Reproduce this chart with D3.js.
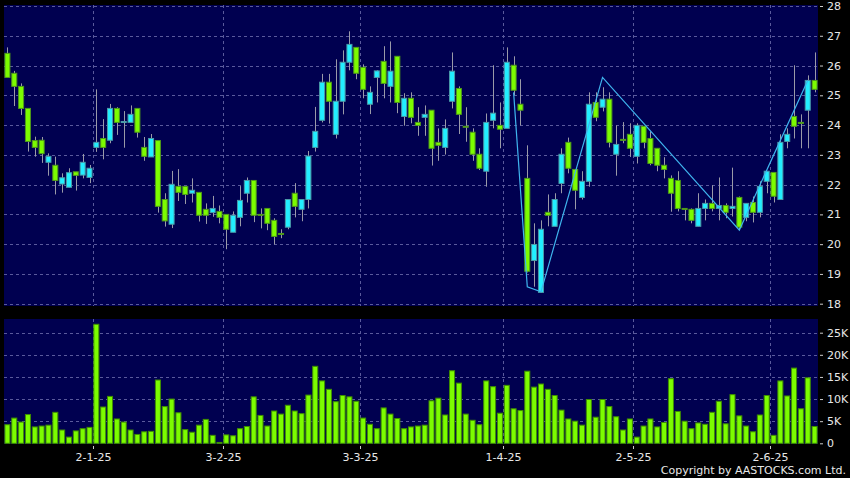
<!DOCTYPE html>
<html><head><meta charset="utf-8">
<script src="https://cdn.jsdelivr.net/npm/d3@7"></script>
<style>html,body{margin:0;padding:0;background:#000;}svg{display:block;}</style>
</head><body>
<svg id="c" width="850" height="478"></svg>
<script>
// ---- data ----
const months = [
  ["2024-12", [11,12,13,16,17,18,19,20,23,24,27,30,31]],
  ["2025-01", [2,3,6,7,8,9,10,13,14,15,16,17,20,21,22,23,24,27,28]],
  ["2025-02", [3,4,5,6,7,10,11,12,13,14,17,18,19,20,21,24,25,26,27,28]],
  ["2025-03", [3,4,5,6,7,10,11,12,13,14,17,18,19,20,21,24,25,26,27,28,31]],
  ["2025-04", [1,2,3,7,8,9,10,11,14,15,16,17,22,23,24,25,28,29,30]],
  ["2025-05", [2,6,7,8,9,12,13,14,15,16,19,20,21,22,23,26,27,28,29,30]],
  ["2025-06", [2,3,4,5,6,9,10]]
];
const dates = months.flatMap(([m, ds]) => ds.map(d => m + "-" + String(d).padStart(2, "0")));

const open = [26.41,25.74,25.30,24.56,23.48,23.49,22.75,22.65,22.02,21.91,22.43,22.32,22.24,
 23.25,23.55,23.49,24.56,24.09,24.09,24.56,23.25,22.93,23.48,21.50,20.67,21.94,21.94,21.71,21.74,21.17,21.06,21.10,
 21.00,20.40,20.90,21.71,22.14,21.00,21.20,20.80,20.36,20.57,21.71,21.17,21.50,23.25,24.16,25.44,23.69,24.80,26.11,26.61,
 25.94,24.70,25.60,26.14,25.30,26.31,24.29,24.90,24.09,24.26,24.50,23.42,23.25,24.80,25.23,23.96,23.76,23.02,22.45,24.16,23.99,
 23.89,26.01,24.70,22.21,19.45,18.38,21.07,20.60,22.04,23.42,22.51,21.57,22.11,24.76,24.60,24.87,23.02,23.52,23.69,
 22.95,23.96,23.55,23.22,22.65,22.21,22.14,21.20,21.17,20.60,21.20,21.37,21.20,21.30,21.20,21.57,20.90,21.40,21.07,22.11,
 22.41,21.50,23.45,24.29,24.09,24.50,25.50];
const close = [25.60,25.30,24.56,23.45,23.25,23.04,22.95,22.14,22.23,22.40,22.31,22.75,22.55,
 23.42,23.25,24.56,24.09,24.12,24.36,23.76,22.95,23.55,21.27,20.78,22.01,21.74,21.67,21.81,20.97,20.97,21.20,20.90,
 20.50,20.97,21.47,22.14,20.97,21.00,20.70,20.26,20.36,21.50,21.27,21.50,22.96,23.79,25.44,24.80,24.80,26.11,26.71,25.74,
 25.20,25.10,25.82,25.40,25.81,24.76,24.90,24.26,23.99,24.36,23.22,23.32,23.89,25.81,24.36,23.96,23.02,22.55,24.09,24.40,23.86,
 26.11,25.17,24.50,19.09,19.99,20.50,20.97,21.50,23.02,22.55,21.81,22.11,24.70,24.26,24.87,23.42,23.35,23.52,23.22,
 23.99,23.42,22.71,22.65,22.51,21.71,21.20,21.20,20.80,21.20,21.37,21.20,21.30,21.07,21.27,20.57,21.37,21.07,21.94,22.45,
 21.61,23.42,23.69,23.96,24.09,25.50,25.20];
const high = [26.61,25.82,25.40,24.56,23.61,23.60,23.05,22.94,22.38,22.55,22.43,23.03,22.66,
 25.20,24.20,24.71,24.60,24.47,24.66,24.56,23.60,23.70,23.48,21.71,22.46,22.52,21.94,22.21,21.74,21.37,21.62,21.30,
 21.00,21.10,21.95,22.24,22.14,21.20,21.20,20.87,20.50,21.50,22.05,21.50,23.13,24.61,25.72,25.72,26.21,26.51,27.15,26.61,
 26.04,25.30,25.84,26.65,26.81,26.31,25.07,25.10,24.60,24.66,24.50,23.89,24.19,26.44,25.30,24.60,23.89,23.22,24.39,26.01,24.76,
 26.61,26.31,25.54,23.32,20.70,20.80,21.67,21.71,23.22,23.58,22.51,22.45,25.10,25.10,25.27,25.10,23.99,24.10,24.06,
 24.06,23.96,23.79,23.22,22.92,22.31,22.45,21.20,21.20,21.71,21.50,21.98,22.24,21.37,22.57,21.60,21.37,21.60,22.11,22.45,
 22.41,23.69,23.89,26.01,24.36,25.67,26.44];
const low = [25.60,24.64,24.34,23.11,22.94,22.73,22.30,21.67,21.73,21.91,21.80,22.21,22.05,
 23.10,22.85,23.39,23.67,23.24,24.09,23.58,22.80,22.93,21.06,20.59,20.54,21.45,21.35,21.40,20.76,20.68,20.92,20.70,
 19.83,20.40,20.60,21.40,20.74,20.53,20.47,19.99,20.20,20.50,20.90,20.77,21.20,23.11,24.09,24.05,23.55,24.36,25.84,25.54,
 24.90,24.37,24.76,24.90,24.76,24.40,23.98,24.06,23.64,23.64,22.64,22.80,23.01,24.56,23.70,23.44,22.80,22.49,21.93,23.89,23.22,
 23.89,25.00,23.99,19.05,18.57,18.38,20.60,20.60,21.71,22.38,21.17,21.50,21.93,24.13,24.46,23.25,22.30,23.39,22.93,
 22.71,23.22,22.65,22.45,22.21,21.09,21.10,20.80,20.70,20.60,20.80,21.10,20.80,20.87,20.93,20.47,20.77,20.73,20.90,21.71,
 21.40,21.50,23.22,23.55,23.22,23.22,25.10];
const volume = [4.2,5.7,4.8,6.5,3.7,3.9,4.1,7.0,3.0,1.4,2.8,3.3,3.6,
 26.9,8.2,10.6,5.5,4.8,3.0,2.0,2.6,2.7,14.3,8.3,10.0,6.9,3.1,2.5,4.1,5.4,1.8,0.2,
 1.9,1.7,3.3,3.8,10.5,6.3,3.9,7.3,6.6,8.6,7.3,6.7,10.9,17.4,14.1,12.2,9.4,10.8,10.5,9.5,
 5.7,4.3,3.3,8.0,6.6,5.6,3.3,3.7,3.9,4.1,9.6,10.2,6.4,16.4,13.6,6.6,5.2,4.2,14.1,12.8,6.8,
 13.1,7.8,7.4,16.3,12.7,13.4,12.2,10.8,7.5,5.5,5.0,4.1,9.9,5.9,9.9,8.3,6.0,3.0,5.5,
 1.4,3.9,5.5,3.7,4.7,14.6,7.2,5.0,3.3,4.6,4.3,7.0,9.5,4.4,11.0,6.2,3.9,2.6,6.4,10.8,
 1.8,14.1,10.7,17.0,7.8,14.8,3.8];

const priceTicks = [18,19,20,21,22,23,24,25,26,27,28];
const volTicks = [0,5,10,15,20,25];
const tickDates = ["2025-01-02","2025-02-03","2025-03-03","2025-04-01","2025-05-02","2025-06-02"];
const tickLabels = ["2-1-25","3-2-25","3-3-25","1-4-25","2-5-25","2-6-25"];
// pattern line vertices (date, price)
const zigDates = ["2025-04-02","2025-04-07","2025-04-09","2025-04-24","2025-05-26","2025-06-09"];
const zigPrices = [25.10,18.57,18.40,25.60,20.47,25.50];

// ---- drawing ----
const svg = d3.select("#c");
const W = 850, H = 478;
const navy = "#000050";
const gridCol = "#5a5a9c";
const txtCol = "#e8e8e8";

const x = d3.scaleBand().domain(dates).range([4, 818]).paddingInner(0.12).paddingOuter(0.06);
const yP = d3.scaleLinear().domain([18, 28]).range([303.7, 6]);
const yV = d3.scaleLinear().domain([0, 25]).range([443.3, 332.7]);
const bw = x.bandwidth();
const cx = d => x(d) + bw / 2;
const gx = d => Math.round(x(d) - (x.step() - bw) / 2) + 0.5;

svg.append("rect").attr("width", W).attr("height", H).attr("fill", "#000");
svg.append("rect").attr("x", 4).attr("y", 5).attr("width", 814).attr("height", 301).attr("fill", navy);
svg.append("rect").attr("x", 4).attr("y", 319).attr("width", 814).attr("height", 125).attr("fill", navy);

// grids price
const gP = svg.append("g");
gP.selectAll("line.h").data(priceTicks).join("line")
  .attr("x1", 4).attr("x2", 818).attr("y1", d => Math.round(yP(d)) + 0.5).attr("y2", d => Math.round(yP(d)) + 0.5)
  .attr("stroke", gridCol).attr("stroke-dasharray", "3,3").attr("stroke-width", 1);
gP.selectAll("line.v").data(tickDates).join("line")
  .attr("x1", gx).attr("x2", gx).attr("y1", 5).attr("y2", 306)
  .attr("stroke", gridCol).attr("stroke-dasharray", "3,3");
// grids volume
const gV = svg.append("g");
gV.selectAll("line.h").data(volTicks.filter(v => v > 0)).join("line")
  .attr("x1", 4).attr("x2", 818).attr("y1", d => Math.round(yV(d)) + 0.5).attr("y2", d => Math.round(yV(d)) + 0.5)
  .attr("stroke", gridCol).attr("stroke-dasharray", "3,3");
gV.selectAll("line.v").data(tickDates).join("line")
  .attr("x1", gx).attr("x2", gx).attr("y1", 319).attr("y2", 444)
  .attr("stroke", gridCol).attr("stroke-dasharray", "3,3");

// right axes
const axP = d3.axisRight(yP).tickValues(priceTicks).tickSize(3).tickPadding(4).tickFormat(d3.format("d"));
const gAxP = svg.append("g").attr("transform", "translate(820,0)").call(axP);
const axV = d3.axisRight(yV).tickValues(volTicks).tickSize(3).tickPadding(4).tickFormat(d => d === 0 ? "0" : d + "K");
const gAxV = svg.append("g").attr("transform", "translate(820,0)").call(axV);
[gAxP, gAxV].forEach(g => {
  g.select(".domain").remove();
  g.selectAll(".tick line").attr("stroke", "#cccccc");
  g.selectAll("text").attr("fill", txtCol).attr("font-family", "DejaVu Sans, sans-serif").attr("font-size", 11);
});

// bottom date axis
const gX = svg.append("g");
gX.selectAll("line").data(tickDates).join("line")
  .attr("x1", gx).attr("x2", gx).attr("y1", 446).attr("y2", 449).attr("stroke", "#cccccc");
gX.selectAll("text").data(tickDates).join("text")
  .attr("x", gx).attr("y", 461).attr("text-anchor", "middle")
  .attr("fill", txtCol).attr("font-family", "DejaVu Sans, sans-serif").attr("font-size", 11)
  .text((d, i) => tickLabels[i]);

svg.append("text").attr("x", 846).attr("y", 474).attr("text-anchor", "end")
  .attr("fill", txtCol).attr("font-family", "DejaVu Sans, sans-serif").attr("font-size", 11)
  .text("Copyright by AASTOCKS.com Ltd.");

// volume bars
svg.append("g").selectAll("rect").data(dates).join("rect")
  .attr("x", d => x(d) + 0.5).attr("width", bw - 1)
  .attr("y", (d, i) => yV(volume[i]))
  .attr("height", (d, i) => Math.max(0.5, yV(0) - yV(volume[i])))
  .attr("fill", "#7cfc00").attr("stroke", "#3f8f00").attr("stroke-width", 1);

// candles
const cg = svg.append("g");
cg.selectAll("line").data(dates).join("line")
  .attr("x1", d => Math.round(cx(d)) + 0.5).attr("x2", d => Math.round(cx(d)) + 0.5)
  .attr("y1", (d, i) => yP(high[i])).attr("y2", (d, i) => yP(low[i]))
  .attr("stroke", "#9a9aa8").attr("stroke-width", 1);
cg.selectAll("rect").data(dates).join("rect")
  .attr("x", d => x(d) + 0.5).attr("width", bw - 1)
  .attr("y", (d, i) => yP(Math.max(open[i], close[i])))
  .attr("height", (d, i) => Math.max(1, Math.abs(yP(open[i]) - yP(close[i]))))
  .attr("fill", (d, i) => close[i] > open[i] ? "#22eeff" : (close[i] < open[i] ? "#7cfc00" : "#8fbf60"))
  .attr("stroke", (d, i) => close[i] > open[i] ? "#4a9aa8" : "#4f9a1a").attr("stroke-width", 1);

// pattern line
const line = d3.line().x(d => cx(d[0])).y(d => yP(d[1]));
svg.append("path").datum(zigDates.map((d, i) => [d, zigPrices[i]]))
  .attr("d", line).attr("fill", "none").attr("stroke", "#3fb4ee").attr("stroke-width", 1.2);
</script>
</body></html>
